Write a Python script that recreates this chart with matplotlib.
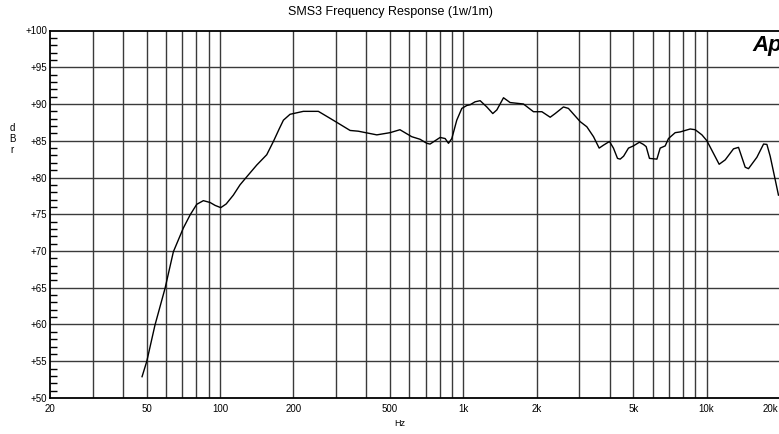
import matplotlib
matplotlib.use("Agg")
import matplotlib.pyplot as plt
import matplotlib.transforms as mtransforms
from matplotlib.ticker import FixedLocator, NullFormatter, NullLocator

# ---- data ----
freq_hz = [47.8, 50.0, 54.0, 59.4, 64.3, 70.6, 75.3, 80.2, 85.4, 91.0, 95.5, 100.7,
           106, 113.4, 120.8, 128.8, 141.6, 155.6, 165.7, 175, 182.2, 194, 220, 253.6,
           283.4, 302, 342.5, 370, 441, 500, 549, 614, 664, 708, 730, 803, 842, 869,
           897, 940, 986, 1034, 1067, 1118, 1173, 1249, 1322, 1374, 1463, 1557, 1767,
           1943, 2104, 2276, 2386, 2580, 2705, 3023, 3220, 3430, 3618, 3769, 3989,
           4142, 4304, 4415, 4560, 4775, 5003, 5296, 5500, 5646, 5824, 6250, 6445,
           6760, 6973, 7430, 7790, 8563, 8980, 9570, 10030, 11265, 11930, 12904,
           13530, 14414, 14870, 16100, 17150, 17700, 18260, 19150, 19750]
level_dbr = [52.9, 55.0, 59.9, 64.9, 69.9, 73.1, 74.9, 76.35, 76.85, 76.6, 76.2, 75.9,
             76.4, 77.6, 79.0, 80.1, 81.7, 83.1, 84.9, 86.6, 87.8, 88.6, 89.0, 89.0,
             88.05, 87.5, 86.4, 86.3, 85.8, 86.1, 86.5, 85.55, 85.2, 84.65, 84.55,
             85.45, 85.3, 84.65, 85.3, 87.8, 89.4, 89.8, 89.9, 90.3, 90.45, 89.6,
             88.7, 89.2, 90.85, 90.2, 90.0, 88.95, 88.95, 88.2, 88.7, 89.6, 89.4,
             87.6, 86.9, 85.55, 84.0, 84.4, 84.9, 84.0, 82.6, 82.5, 82.9, 84.0, 84.3,
             84.8, 84.5, 84.2, 82.6, 82.5, 84.0, 84.3, 85.3, 86.1, 86.2, 86.6, 86.5,
             85.8, 85.0, 81.8, 82.4, 83.9, 84.1, 81.4, 81.2, 82.75, 84.55, 84.5,
             82.9, 79.7, 77.6]

x_tick_vals = [20, 50, 100, 200, 500, 1000, 2000, 5000, 10000, 20000]
x_tick_labels = ["20", "50", "100", "200", "500", "1k", "2k", "5k", "10k", "20k"]
x_grid_vals = [30, 40, 50, 60, 70, 80, 90, 100, 200, 300, 400, 500, 600, 700, 800, 900,
               1000, 2000, 3000, 4000, 5000, 6000, 7000, 8000, 9000, 10000]
y_tick_vals = [50, 55, 60, 65, 70, 75, 80, 85, 90, 95, 100]
y_tick_labels = ["+50", "+55", "+60", "+65", "+70", "+75", "+80", "+85", "+90", "+95", "+100"]

plt.rcParams['font.family'] = ['Liberation Sans', 'DejaVu Sans']

W, H = 779, 434
fig = plt.figure(figsize=(W / 100, H / 100), dpi=100)
ax_l, ax_r, ax_t, ax_b = 50, 779.8, 30.5, 398
ax = fig.add_axes([ax_l / W, (H - ax_b) / H, (ax_r - ax_l) / W, (ax_b - ax_t) / H])
ax.set_xscale('log')
ax.set_xlim(20, 20000)
ax.set_ylim(50, 100)

# grid
for gx in x_grid_vals:
    ax.axvline(gx, color='#3a3a3a', lw=1.0, zorder=1)
for gy in y_tick_vals[1:-1]:
    ax.axhline(gy, color='#3a3a3a', lw=1.0, zorder=1)

ax.plot(freq_hz, level_dbr, color='black', lw=1.0, zorder=3)

ax.xaxis.set_major_locator(FixedLocator(x_tick_vals))
ax.xaxis.set_minor_locator(NullLocator())
ax.set_xticklabels(x_tick_labels)
ax.xaxis.set_minor_formatter(NullFormatter())
ax.tick_params(axis='x', which='major', length=0, pad=4, labelsize=7)
last = ax.get_xticklabels()[-1]
last.set_transform(last.get_transform() + mtransforms.ScaledTranslation(-9 / 100, 0, fig.dpi_scale_trans))

ax.yaxis.set_major_locator(FixedLocator(y_tick_vals))
ax.set_yticklabels(y_tick_labels)
ax.yaxis.set_minor_locator(FixedLocator(list(range(50, 101))))
ax.tick_params(axis='y', which='major', length=0, pad=2, labelsize=7)
ax.tick_params(axis='y', which='minor', direction='in', length=5, width=1.0, color='black')

for s in ax.spines.values():
    s.set_linewidth(1.3)
    s.set_color('black')

fig.text(390 / W, 1 - 12 / H, "SMS3 Frequency Response (1w/1m)", ha='center', va='center', fontsize=9)
fig.text(400 / W, 1 - 423 / H, "Hz", ha='center', va='center', fontsize=6.5)
for i, ch in enumerate("dBr"):
    fig.text(12 / W, 1 - (128 + 11 * i) / H, ch, ha='center', va='center', fontsize=7)
fig.text(752 / W, 1 - 45 / H, "Ap", ha='left', va='center', fontsize=16,
         fontweight='bold', fontstyle='italic')

fig.savefig("out.png", dpi=100)
